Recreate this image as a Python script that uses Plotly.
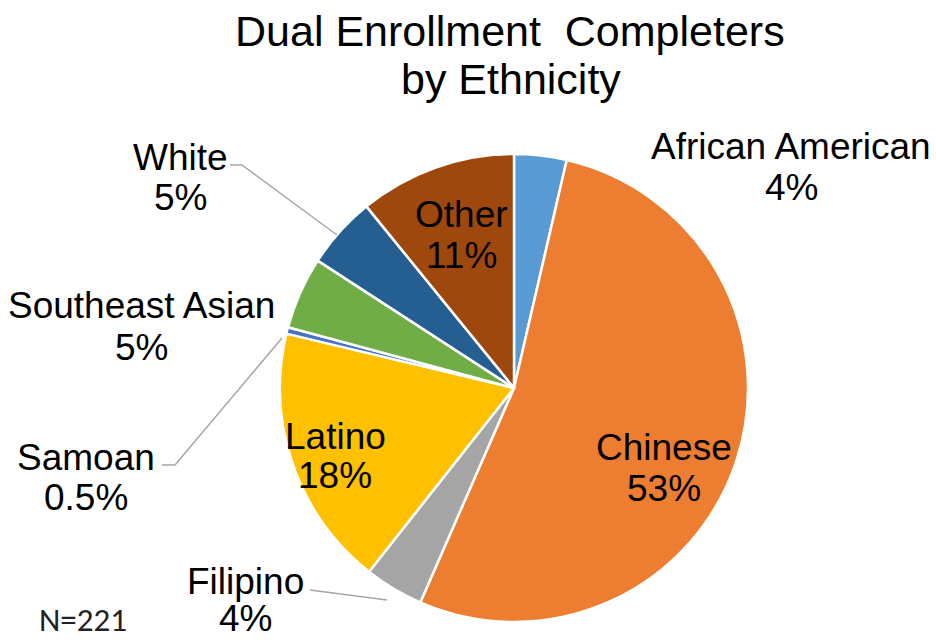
import plotly.graph_objects as go

# ---- data ----
categories = ["African American", "Chinese", "Filipino", "Latino", "Samoan",
              "Southeast Asian", "White", "Other"]
counts = [8, 117, 9, 40, 1, 11, 11, 24]
colors = ["#5B9BD5", "#ED7D31", "#A5A5A5", "#FFC000", "#4472C4",
          "#70AD47", "#255E91", "#9E480E"]
title_lines = ["Dual Enrollment\u00a0 Completers", "by Ethnicity"]
n_note = "N=221"

total = sum(counts)
pct_text = []
for c in counts:
    p = c / total * 100
    pct_text.append(f"{p:.0f}%" if p >= 1 else f"{p:.1f}%")

W, H = 936, 640

def px(x):
    return x / W

def py(y):
    return 1 - y / H

fig = go.Figure()
fig.add_trace(go.Pie(
    labels=categories, values=counts, sort=False, direction="clockwise",
    rotation=0, textinfo="none", hoverinfo="label+percent",
    marker=dict(colors=colors, line=dict(color="white", width=2.5)),
    domain=dict(x=[px(280), px(748)], y=[py(622), py(154)]),
    showlegend=False,
))

# label layout (pixel centres of name line and percent line)
label_pos = {
    "African American": (791, 146, 187),
    "Chinese": (664, 447, 488),
    "Filipino": (245, 581, 618),
    "Latino": (335, 436, 475),
    "Samoan": (86, 457, 497),
    "Southeast Asian": (141, 305, 347),
    "White": (180, 157, 197),
    "Other": (461, 214, 255),
}
font = dict(family="Arial, Liberation Sans, sans-serif", size=37, color="black")
ann = []
for cat, pt in zip(categories, pct_text):
    x, y1, y2 = label_pos[cat]
    ann.append(dict(x=px(x), y=py(y1), xref="paper", yref="paper", text=cat,
                    showarrow=False, font=font, xanchor="center", yanchor="middle"))
    ann.append(dict(x=px(x), y=py(y2), xref="paper", yref="paper", text=pt,
                    showarrow=False, font=font, xanchor="center", yanchor="middle"))

tfont = dict(family="Arial, Liberation Sans, sans-serif", size=43, color="black")
ann.append(dict(x=px(510), y=py(31), xref="paper", yref="paper", text=title_lines[0],
                showarrow=False, font=tfont, xanchor="center", yanchor="middle"))
ann.append(dict(x=px(511), y=py(79), xref="paper", yref="paper", text=title_lines[1],
                showarrow=False, font=tfont, xanchor="center", yanchor="middle"))
ann.append(dict(x=px(83), y=py(620), xref="paper", yref="paper", text=n_note,
                showarrow=False,
                font=dict(family="Carlito, Liberation Sans, sans-serif", size=33, color="#222"),
                xanchor="center", yanchor="middle"))

# leader lines
leaders = [
    [(230, 165), (242, 165), (337, 235)],
    [(162, 465), (175, 465), (282, 338)],
    [(310, 590), (387, 600)],
]
shapes = []
for pts in leaders:
    path = "M " + " L ".join(f"{px(x)},{py(y)}" for x, y in pts)
    shapes.append(dict(type="path", path=path, xref="paper", yref="paper",
                       line=dict(color="#A6A6A6", width=1.5)))

fig.update_layout(
    width=W, height=H, margin=dict(l=0, r=0, t=0, b=0),
    paper_bgcolor="white", plot_bgcolor="white",
    annotations=ann, shapes=shapes,
)
fig.write_html("out.html", config={"displayModeBar": False},
               post_script="document.body.style.margin='0';document.body.style.overflow='hidden';")
